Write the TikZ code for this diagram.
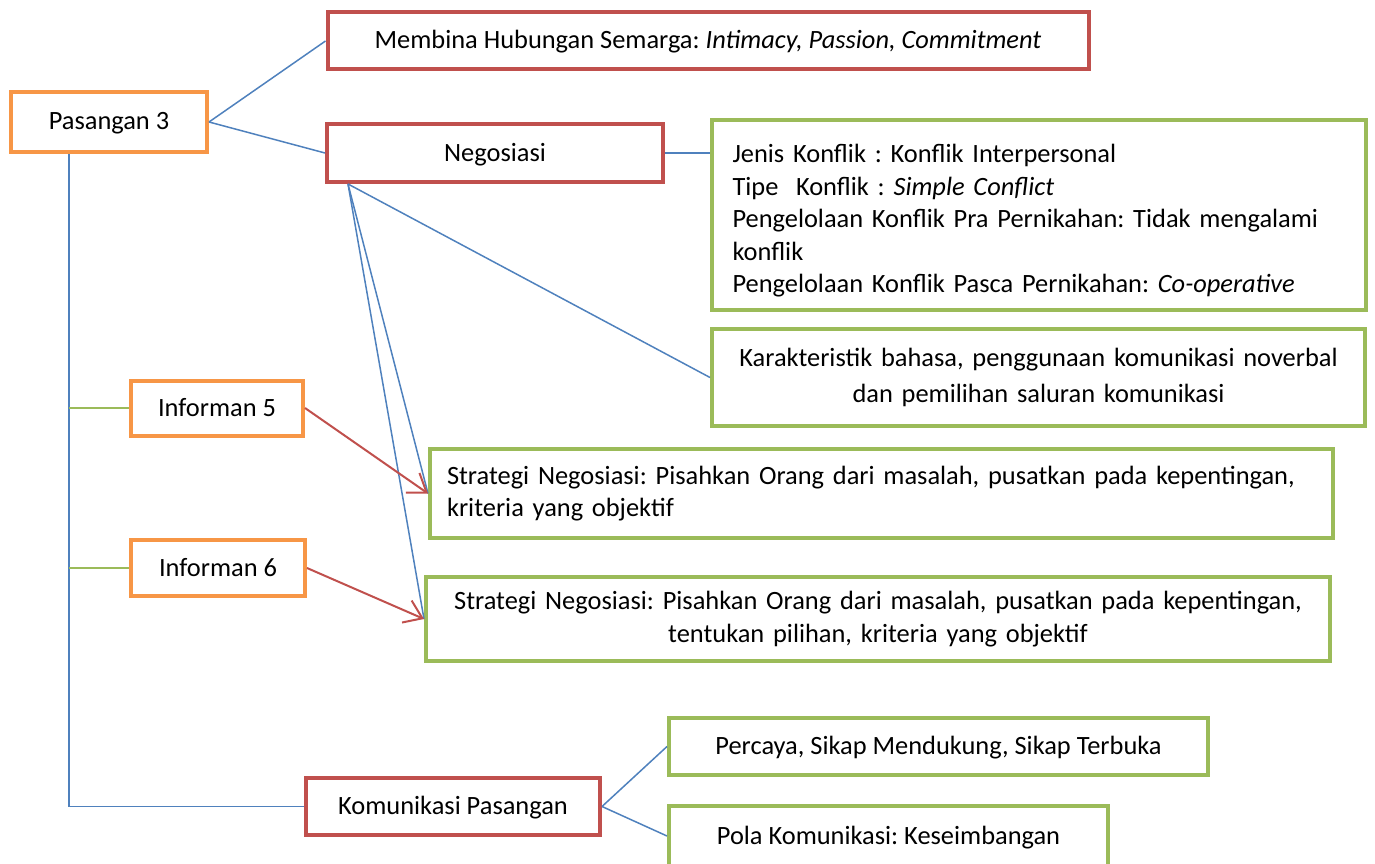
\documentclass[tikz,border=0pt]{standalone}
\usepackage{fontspec}
\setmainfont{Carlito}
\usetikzlibrary{arrows.meta}
\definecolor{boxorange}{HTML}{F79646}
\definecolor{boxred}{HTML}{C0504D}
\definecolor{boxgreen}{HTML}{9BBB59}
\definecolor{linkblue}{HTML}{4F81BD}
\frenchspacing
\tikzset{
  box/.style={draw,line width=4pt,fill=white,inner sep=0pt,font=\fontsize{26.4}{32.5}\selectfont},
  oneline/.style={text height=20pt,text depth=4pt},
  orangebox/.style={box,oneline,draw=boxorange},
  redbox/.style={box,oneline,draw=boxred},
  greenbox/.style={box,draw=boxgreen},
  link/.style={linkblue,line width=1.5pt},
  branch/.style={boxgreen,line width=1.5pt},
  pointer/.style={boxred,line width=2pt,-{Straight Barb[length=17pt,width=24pt,line width=2pt]}}
}
\begin{document}
\begin{tikzpicture}[x=1pt,y=-1pt]
\useasboundingbox (0,0) rectangle (1375,864);
% level 1
\node[orangebox,minimum width=196pt,minimum height=60pt] (p3) at (109,122) {Pasangan 3};
% level 2
\node[redbox,minimum width=761pt,minimum height=57pt] (bina) at (708,41) {Membina Hubungan Semarga: \textit{Intimacy, Passion, Commitment}};
\node[redbox,minimum width=336pt,minimum height=57pt] (nego) at (495,153) {Negosiasi};
\node[redbox,minimum width=294pt,minimum height=57pt] (kom) at (453,806.5) {Komunikasi Pasangan};
\node[orangebox,minimum width=172pt,minimum height=55pt] (inf5) at (217,408) {Informan 5};
\node[orangebox,minimum width=174pt,minimum height=56pt] (inf6) at (218,568) {Informan 6};
% level 3
\node[greenbox,text width=612pt,inner xsep=21pt,minimum height=190pt,align=left] (jenis) at (1038.5,215)
  {\rule{0pt}{30pt}Jenis Konflik : Konflik Interpersonal\\
   Tipe~ Konflik : \textit{Simple Conflict}\\
   Pengelolaan Konflik Pra Pernikahan: Tidak mengalami\\
   konflik\\
   Pengelolaan Konflik Pasca Pernikahan: \textit{Co-operative}};
\node[greenbox,text width=640pt,minimum width=653pt,minimum height=97pt,align=center,
  font=\fontsize{26.4}{36}\selectfont] (karak) at (1038.5,377.5)
  {Karakteristik bahasa, penggunaan komunikasi noverbal\\dan pemilihan saluran komunikasi};
\node[greenbox,text width=869pt,inner xsep=17pt,minimum height=89pt,align=left] (strat1) at (881.5,493.5)
  {Strategi Negosiasi: Pisahkan Orang dari masalah, pusatkan pada kepentingan,\\kriteria yang objektif};
\node[greenbox,text width=880pt,minimum width=904pt,minimum height=84pt,align=center] (strat2) at (878,619)
  {Strategi Negosiasi: Pisahkan Orang dari masalah, pusatkan pada kepentingan,\\tentukan pilihan, kriteria yang objektif};
\node[greenbox,oneline,minimum width=539pt,minimum height=57pt] (percaya) at (938.5,746.5) {Percaya, Sikap Mendukung, Sikap Terbuka};
\node[greenbox,oneline,minimum width=439pt,minimum height=60pt] (pola) at (888.5,836) {Pola Komunikasi: Keseimbangan};
% connectors
\coordinate (trunk) at (69,154);
\coordinate (negfoot) at (348,184);
\draw[link] (p3.east) -- (bina.west);
\draw[link] (p3.east) -- (nego.west);
\draw[link] (trunk) |- (kom.west);
\draw[branch] (trunk |- inf5.west) -- (inf5.west);
\draw[branch] (trunk |- inf6.west) -- (inf6.west);
\draw[link] (nego.east) -- (nego.east -| jenis.west);
\draw[link] (negfoot) -- (karak.west);
\draw[link] (negfoot) -- (strat1.west);
\draw[link] (negfoot) -- (strat2.west);
\draw[pointer] (inf5.east) -- (strat1.west);
\draw[pointer] (inf6.east) -- (strat2.west);
\draw[link] (kom.east) -- (percaya.west);
\draw[link] (kom.east) -- (pola.west);
\end{tikzpicture}
\end{document}
